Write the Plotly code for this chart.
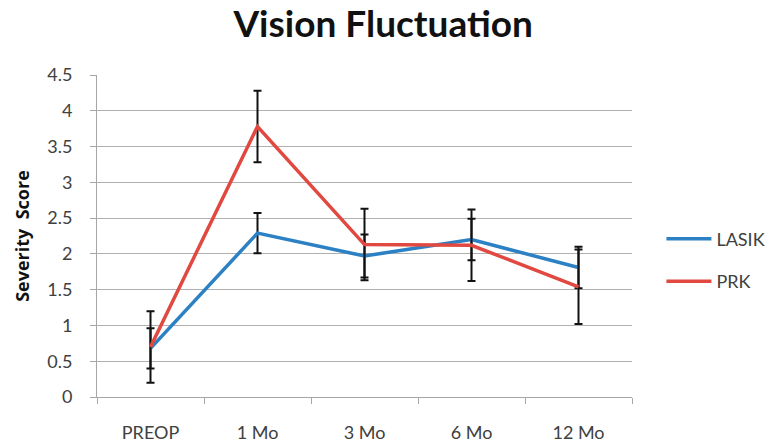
import plotly.graph_objects as go

# Follow-up visits
visits = ["PREOP", "1 Mo", "3 Mo", "6 Mo", "12 Mo"]

# Mean severity score per visit
lasik_mean = [0.68, 2.29, 1.97, 2.20, 1.81]
prk_mean = [0.70, 3.78, 2.13, 2.12, 1.54]

# Error bar half-lengths
lasik_err = [0.28, 0.28, 0.30, 0.29, 0.29]
prk_err = [0.50, 0.50, 0.50, 0.50, 0.52]

y_ticks = [0, 0.5, 1, 1.5, 2, 2.5, 3, 3.5, 4, 4.5]
y_tick_text = ["0", "0.5", "1", "1.5", "2", "2.5", "3", "3.5", "4", "4.5"]

FONT = "Lato, 'Open Sans', sans-serif"
TXT = "#404040"

fig = go.Figure()
fig.add_trace(go.Scatter(
    x=visits, y=lasik_mean, name="LASIK", mode="lines",
    line=dict(color="#2c80c4", width=3.5),
    error_y=dict(type="data", array=lasik_err, color="#111111", thickness=2, width=4),
    legendgroup="a",
))
fig.add_trace(go.Scatter(
    x=visits, y=prk_mean, name="PRK", mode="lines",
    line=dict(color="#e04840", width=3.5),
    error_y=dict(type="data", array=prk_err, color="#111111", thickness=2, width=4),
    legendgroup="b",
))

fig.update_layout(
    width=771, height=448,
    margin=dict(l=97, r=139, t=75, b=51, autoexpand=False),
    paper_bgcolor="white", plot_bgcolor="white",
    font=dict(family=FONT, color=TXT, size=18),
    title=dict(text="<b>Vision Fluctuation</b>", x=0.497, xanchor="center",
               y=0.947, yanchor="middle",
               font=dict(family=FONT, size=37, color="#111111")),
    legend=dict(x=1.055, y=0.425, xanchor="left", yanchor="middle",
                font=dict(family=FONT, size=18, color=TXT),
                tracegroupgap=16, itemwidth=45, traceorder="grouped"),
    showlegend=True,
)
fig.update_xaxes(
    type="category", range=[-0.5, 4.5],
    showgrid=False, showline=True, linecolor="#a6a6a6", linewidth=1,
    ticks="outside", tickson="boundaries", ticklen=6, tickcolor="#a6a6a6",
    ticklabelstandoff=19, automargin=False,
    tickfont=dict(family=FONT, size=18, color=TXT),
)
fig.update_yaxes(
    range=[0, 4.5], tickvals=y_ticks, ticktext=y_tick_text,
    showgrid=True, gridcolor="#b0b0b0", gridwidth=1,
    showline=True, linecolor="#a6a6a6", linewidth=1,
    ticks="outside", ticklen=6, tickcolor="#a6a6a6",
    ticklabelstandoff=14, zeroline=False, automargin=False,
    tickfont=dict(family=FONT, size=18, color=TXT),
    title=dict(text="<b>Severity  Score</b>", standoff=12,
               font=dict(family="'Open Sans', sans-serif", size=18, color="#111111")),
)

fig.write_html("out.html")
